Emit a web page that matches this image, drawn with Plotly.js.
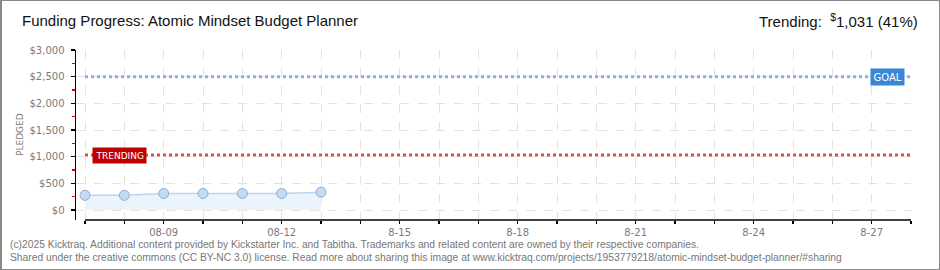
<!DOCTYPE html>
<html>
<head>
<meta charset="utf-8">
<script src="https://cdn.plot.ly/plotly-3.0.1.min.js"></script>
<style>
  html, body { margin: 0; padding: 0; background: #fff; }
  #wrap { position: relative; width: 940px; height: 270px; }
  #chart { position: absolute; left: 0; top: 0; width: 940px; height: 270px; }
  #frame { position: absolute; left: 0; top: 0; width: 940px; height: 270px; box-sizing: border-box; border: 1px solid #8a8a8a; border-left-width: 2px; pointer-events: none; }
</style>
</head>
<body>
<div id="wrap">
  <div id="chart"></div>
  <div id="frame"></div>
</div>
<script>
// ---- data ----
const dates = ['2025-08-07','2025-08-08','2025-08-09','2025-08-10','2025-08-11','2025-08-12','2025-08-13'];
const pledged = [275, 275, 310, 310, 310, 310, 335];
const goal = 2500;
const trending = 1031;
const trendingPct = 41;
const axisDays = ['2025-08-07','2025-08-08','2025-08-09','2025-08-10','2025-08-11','2025-08-12','2025-08-13',
  '2025-08-14','2025-08-15','2025-08-16','2025-08-17','2025-08-18','2025-08-19','2025-08-20','2025-08-21',
  '2025-08-22','2025-08-23','2025-08-24','2025-08-25','2025-08-26','2025-08-27','2025-08-28'];
const axisLabels = ['','','08-09','','','08-12','','','8-15','','','8-18','','','8-21','','','8-24','','','8-27',''];
const yTicks = [0, 500, 1000, 1500, 2000, 2500, 3000];
const yLabels = ['$0','$500','$1,000','$1,500','$2,000','$2,500','$3,000'];

const xStart = '2025-08-06 18:30';
const xEnd = axisDays[axisDays.length - 1];
const lineStart = axisDays[0];

const traces = [
  {
    x: [lineStart, xEnd], y: [goal, goal], mode: 'lines', hoverinfo: 'skip',
    line: { color: '#8cb0de', width: 3, dash: 'dot' }
  },
  {
    x: [lineStart, xEnd], y: [trending, trending], mode: 'lines', hoverinfo: 'skip',
    line: { color: '#d85050', width: 3, dash: 'dot' }
  },
  {
    x: dates, y: pledged, mode: 'lines+markers', fill: 'tozeroy',
    fillcolor: '#ebf3fc',
    line: { color: '#bcd5ef', width: 1.5 },
    marker: { size: 10, color: '#c4dbf4', line: { color: '#8eacd2', width: 1 } }
  }
];

const tickFont = { family: 'DejaVu Sans', size: 10, color: '#7a7a7a' };

const layout = {
  width: 940, height: 270,
  margin: { l: 76, r: 29, t: 50, b: 50 },
  paper_bgcolor: '#ffffff', plot_bgcolor: '#ffffff',
  showlegend: false,
  xaxis: {
    type: 'date', range: [xStart, xEnd],
    tickmode: 'array', tickvals: axisDays, ticktext: axisLabels,
    showline: false, zeroline: false,
    ticks: 'outside', ticklen: 3, tickwidth: 1.5, tickcolor: '#000',
    showgrid: true, gridcolor: '#e2e2e2', griddash: 'dash', gridwidth: 1,
    tickfont: tickFont, fixedrange: true
  },
  yaxis: {
    range: [-187.5, 3000],
    tickmode: 'array', tickvals: yTicks, ticktext: yLabels,
    showline: true, linecolor: '#000', linewidth: 1.5,
    ticks: 'outside', ticklen: 4, tickwidth: 1.5, tickcolor: '#000',
    minor: { dtick: 250, tick0: 0, ticks: 'outside', ticklen: 3, tickwidth: 1.5, tickcolor: '#e00000', showgrid: false },
    showgrid: true, gridcolor: '#e2e2e2', griddash: 'dash', gridwidth: 1,
    zeroline: false, ticklabelstandoff: 4,
    tickfont: tickFont, fixedrange: true
  },
  shapes: [
    { type: 'line', xref: 'x', yref: 'paper', x0: lineStart, x1: xEnd, y0: 0, y1: 0,
      line: { color: '#000', width: 1.5 } }
  ],
  annotations: [
    { xref: 'paper', yref: 'paper', x: -56/835, y: 1.176, xanchor: 'left', yanchor: 'middle',
      text: 'Funding Progress: Atomic Mindset Budget Planner', showarrow: false,
      font: { family: 'Liberation Sans', size: 15, color: '#111' } },
    { xref: 'paper', yref: 'paper', x: 1 + 9/835, y: 1.176, xanchor: 'right', yanchor: 'middle',
      text: 'Trending:  <sup>$</sup>1,031 (' + trendingPct + '%)', showarrow: false,
      font: { family: 'Liberation Sans', size: 15, color: '#111' } },
    { xref: 'paper', yref: 'paper', x: -56/835, y: 0.5, xanchor: 'center', yanchor: 'middle', textangle: -90,
      text: 'PLEDGED', showarrow: false,
      font: { family: 'DejaVu Sans', size: 9, color: '#7a7a7a' } },
    { xref: 'paper', x: 1, xanchor: 'right', xshift: -6, yref: 'y', y: goal, yanchor: 'middle',
      text: 'GOAL', showarrow: false, bgcolor: '#3a86d6', borderpad: 2.5,
      font: { family: 'DejaVu Sans', size: 10, color: '#ffffff' } },
    { xref: 'x', x: lineStart, xanchor: 'left', xshift: 7, yref: 'y', y: trending, yanchor: 'middle',
      text: 'TRENDING', showarrow: false, bgcolor: '#bf0000', borderpad: 2.5,
      font: { family: 'DejaVu Sans', size: 9, color: '#ffffff' } },
    { xref: 'paper', yref: 'paper', x: -68/835, y: -24/170, xanchor: 'left', yanchor: 'middle',
      text: '(c)2025 Kicktraq. Additional content provided by Kickstarter Inc. and Tabitha. Trademarks and related content are owned by their respective companies.',
      showarrow: false, font: { family: 'Liberation Sans', size: 10.3, color: '#777' } },
    { xref: 'paper', yref: 'paper', x: -68/835, y: -37/170, xanchor: 'left', yanchor: 'middle',
      text: 'Shared under the creative commons (CC BY-NC 3.0) license. Read more about sharing this image at www.kicktraq.com/projects/1953779218/atomic-mindset-budget-planner/#sharing',
      showarrow: false, font: { family: 'Liberation Sans', size: 10.3, color: '#777' } }
  ]
};

Plotly.newPlot('chart', traces, layout, { displayModeBar: false, staticPlot: true });
</script>
</body>
</html>
